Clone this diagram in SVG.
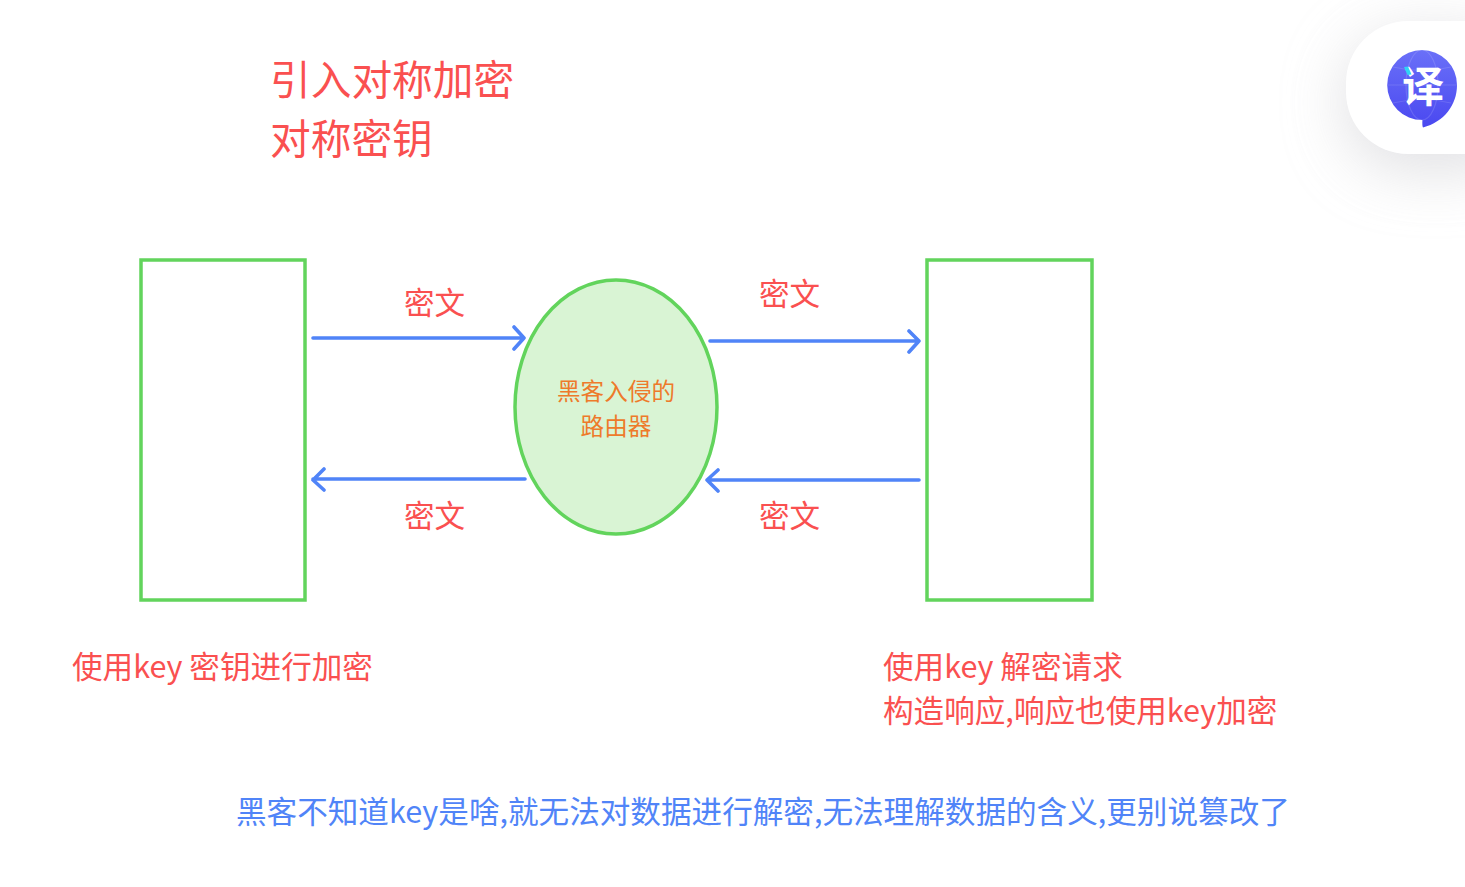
<svg xmlns="http://www.w3.org/2000/svg" width="1465" height="887" viewBox="0 0 1465 887">
<defs>
<style>
text{font-family:"Noto Sans CJK SC","Noto Sans",sans-serif}
.r{fill:#fa5050;font-size:30.6px}
.box{fill:#fff;stroke:#62d45c;stroke-width:3.5}
.c{fill:none;stroke:#5084f8;stroke-width:3.6;stroke-linecap:round;stroke-linejoin:round}
.gl{fill:none;stroke:#fff;stroke-opacity:.13;stroke-width:1.2}
</style>
<linearGradient id="g" x1="0" y1="0" x2="0" y2="1"><stop offset="0" stop-color="#6a70f8"/><stop offset="1" stop-color="#4a48f0"/></linearGradient>
<filter id="s" x="-60%" y="-60%" width="220%" height="220%"><feGaussianBlur stdDeviation="32"/></filter>
</defs>
<rect width="1465" height="887" fill="#fff"/>
<g id="badge">
<rect x="1346" y="36" width="180" height="133" rx="62" fill="#d4d4d8" filter="url(#s)" opacity="0.75"/>
<rect x="1346" y="21" width="180" height="133" rx="62" fill="#fff"/>
<path d="M1422 50a35 35 0 0 1 35 35c0 20-13 37-34 42.500c-.6-1-.8-3-.6-7.500a35 35 0 0 1-.4-70z" fill="url(#g)"/>
<path class="gl" d="M1388 85H1457M1393 67Q1422 74 1451 67M1393 103Q1422 96 1451 103"/>
<ellipse class="gl" cx="1422" cy="85" rx="16" ry="35"/>
<text x="1423" y="102" font-size="42" font-weight="700" fill="#fff" text-anchor="middle">译</text>
<path d="M1404 67l4-.500 3.500 8-4 .500z" fill="#2fd4f5"/>
</g>
<g id="title">
<text class="r" x="270" y="95" style="font-size:40.700px">引入对称加密</text>
<text class="r" x="270" y="154" style="font-size:40.700px">对称密钥</text>
</g>
<g id="left-box"><rect class="box" x="141" y="260" width="164" height="340"/></g>
<g id="right-box"><rect class="box" x="927" y="260" width="165" height="340"/></g>
<g id="router">
<ellipse cx="616" cy="407" rx="101" ry="127" fill="#d9f4d4" stroke="#62d45c" stroke-width="3.500"/>
<text x="616" y="400" font-size="23.600" fill="#ee7a2a" text-anchor="middle">黑客入侵的</text>
<text x="616" y="435" font-size="23.600" fill="#ee7a2a" text-anchor="middle">路由器</text>
</g>
<g id="connectors">
<path class="c" d="M313 338H524M514 327L524 338L514 349"/>
<path class="c" d="M525 479H313M324 469L313 480L324 490"/>
<path class="c" d="M710 341H919M909 331L919 341L909 352"/>
<path class="c" d="M919 480H707M718 470L707 480L718 491"/>
</g>
<g id="labels">
<text class="r" x="404" y="314">密文</text>
<text class="r" x="759" y="305">密文</text>
<text class="r" x="404" y="527">密文</text>
<text class="r" x="759" y="527">密文</text>
<text class="r" x="72" y="678">使用key 密钥进行加密</text>
<text class="r" x="883" y="678">使用key 解密请求</text>
<text class="r" x="883" y="722">构造响应,响应也使用key加密</text>
<text x="236" y="823" fill="#5084f8" font-size="30.600">黑客不知道key是啥,就无法对数据进行解密,无法理解数据的含义,更别说篡改了</text>
</g>
</svg>
